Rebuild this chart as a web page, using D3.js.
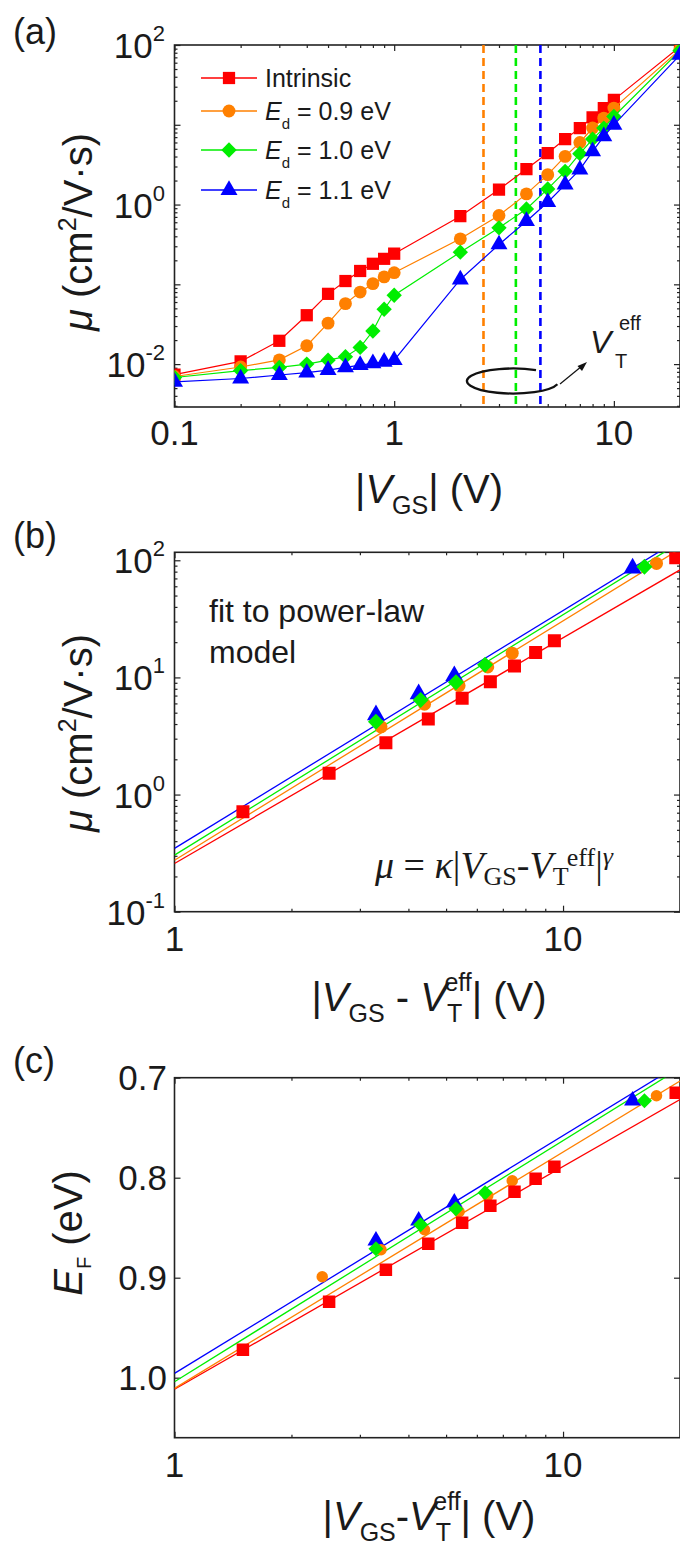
<!DOCTYPE html>
<html lang="en">
<head>
<meta charset="UTF-8" />
<title>Mobility vs gate voltage</title>
<script src="https://d3js.org/d3.v7.min.js"></script>
<style>
  body { margin: 0; background: #fff; }
  text { font-family: "Liberation Sans", Arial, sans-serif; fill: #1a1a1a; }
</style>
</head>
<body>
<script>
// ---- panel (a): mobility vs |VGS| ----
var vgs = [0.1, 0.2, 0.3, 0.4, 0.5, 0.6, 0.7, 0.8, 0.9, 1, 2, 3, 4, 5, 6, 7, 8, 9, 10, 20];
var muIntrinsic = [0.0074, 0.0108, 0.0196, 0.041, 0.076, 0.110, 0.147, 0.181, 0.209, 0.242, 0.715, 1.54, 2.79, 4.42, 6.62, 9.08, 12.4, 16.2, 20.5, 95];
var muEd09 = [0.0070, 0.0092, 0.0113, 0.017, 0.0326, 0.0573, 0.080, 0.102, 0.124, 0.140, 0.372, 0.729, 1.36, 2.37, 4.02, 6.0, 9.1, 12.1, 16.2, 88];
var muEd10 = [0.0068, 0.0083, 0.0091, 0.0100, 0.0112, 0.0124, 0.0162, 0.026, 0.0487, 0.073, 0.253, 0.511, 0.88, 1.57, 2.61, 4.34, 6.62, 9.08, 12.7, 85];
var muEd11 = [0.0060, 0.0066, 0.0073, 0.0078, 0.0084, 0.0091, 0.0097, 0.0102, 0.0107, 0.0112, 0.115, 0.316, 0.619, 1.07, 1.78, 2.74, 4.64, 7.15, 10.0, 75];
var vtEff = [2.55, 3.58, 4.63]; // dashed lines for Ed = 0.9, 1.0, 1.1 eV

// ---- panel (b): mobility vs |VGS - VT| ----
var bIntrinsicX = [1.5, 2.5, 3.5, 4.5, 5.5, 6.5, 7.5, 8.5, 9.5, 19.5];
var bIntrinsicY = [0.713, 1.52, 2.77, 4.42, 6.63, 9.19, 12.5, 16.3, 20.6, 105];
var bEd09X = [3.4, 4.4, 5.4, 6.4, 7.4, 17.4];
var bEd09Y = [3.79, 5.9, 8.5, 12.3, 16.1, 94];
var bEd10X = [3.3, 4.3, 5.3, 6.3, 16.2];
var bEd10Y = [4.19, 6.41, 9.08, 12.8, 88];
var bEd11X = [3.3, 4.25, 5.25, 15.1];
var bEd11Y = [4.78, 7.22, 10.3, 85.6];
var fitX = [1, 20];
var bFitIntrinsic = [0.258, 82.8];
var bFitEd09 = [0.275, 125];
var bFitEd10 = [0.304, 142];
var bFitEd11 = [0.347, 152];

// ---- panel (c): Fermi level vs |VGS - VT| ----
var cIntrinsicY = [0.972, 0.924, 0.892, 0.866, 0.845, 0.828, 0.814, 0.801, 0.789, 0.715];
var cEd09X = [2.4, 3.4, 4.4, 5.4, 6.4, 7.4, 17.4];
var cEd09Y = [0.899, 0.872, 0.852, 0.834, 0.818, 0.803, 0.718];
var cEd10Y = [0.871, 0.847, 0.831, 0.815, 0.723];
var cEd11Y = [0.863, 0.843, 0.825, 0.723];
var cFitIntrinsic = [1.0115, 0.7218];
var cFitEd09 = [1.0107, 0.7033];
var cFitEd10 = [1.004, 0.6904];
var cFitEd11 = [0.9957, 0.6864];

var red = "#ff0000", orange = "#ff8000", green = "#00ee00", blue = "#0000ff";

var svg = d3.select("body").append("svg")
  .attr("width", 680).attr("height", 1550);

var diamond = {
  draw: function (ctx, size) {
    var r = Math.sqrt(size) / 2;
    ctx.moveTo(0, -r); ctx.lineTo(r, 0); ctx.lineTo(0, r); ctx.lineTo(-r, 0); ctx.closePath();
  }
};
var shapes = { square: d3.symbolSquare, circle: d3.symbolCircle, diamond: diamond, triangle: d3.symbolTriangle };

function logTicks(lo, hi) {
  var major = [], minor = [];
  for (var e = Math.floor(Math.log10(lo)); e <= Math.ceil(Math.log10(hi)); e++) {
    for (var m = 1; m < 10; m++) {
      var v = m * Math.pow(10, e);
      if (v < lo * 0.999 || v > hi * 1.001) continue;
      (m === 1 ? major : minor).push(v);
    }
  }
  return { major: major, minor: minor };
}

function makePanel(id, b, x, y, xt, yt) {
  svg.append("clipPath").attr("id", id).append("rect")
    .attr("x", b.left).attr("y", b.top)
    .attr("width", b.right - b.left).attr("height", b.bottom - b.top);
  var g = svg.append("g");
  var sides = [
    [d3.axisBottom(x), "translate(0," + b.bottom + ")", xt],
    [d3.axisTop(x), "translate(0," + b.top + ")", xt],
    [d3.axisLeft(y), "translate(" + b.left + ",0)", yt],
    [d3.axisRight(y), "translate(" + b.right + ",0)", yt]
  ];
  sides.forEach(function (s) {
    [[s[2].major, 6], [s[2].minor, 3]].forEach(function (t) {
      if (!t[0].length) return;
      var a = g.append("g").attr("transform", s[1])
        .call(s[0].tickValues(t[0]).tickSize(-t[1]).tickFormat(""));
      a.select(".domain").remove();
      a.selectAll("line").attr("stroke", "#222").attr("stroke-width", 1.2);
    });
  });
  g.append("rect")
    .attr("x", b.left).attr("y", b.top)
    .attr("width", b.right - b.left).attr("height", b.bottom - b.top)
    .attr("fill", "none").attr("stroke", "#222").attr("stroke-width", 1.6);
  return svg.append("g").attr("clip-path", "url(#" + id + ")");
}

function series(g, x, y, xs, ys, color, shape, size, withLine) {
  var pts = xs.map(function (v, i) { return [v, ys[i]]; });
  if (withLine) {
    g.append("path").datum(pts)
      .attr("fill", "none").attr("stroke", color).attr("stroke-width", 1.2)
      .attr("d", d3.line().x(function (d) { return x(d[0]); }).y(function (d) { return y(d[1]); }));
  }
  g.selectAll(null).data(pts).enter().append("path")
    .attr("transform", function (d) { return "translate(" + x(d[0]) + "," + y(d[1]) + ")"; })
    .attr("d", d3.symbol(shapes[shape], size))
    .attr("fill", color);
}

function fitLine(g, x, y, vals, color) {
  g.append("path").datum(fitX.map(function (v, i) { return [v, vals[i]]; }))
    .attr("fill", "none").attr("stroke", color).attr("stroke-width", 1.3)
    .attr("d", d3.line().x(function (d) { return x(d[0]); }).y(function (d) { return y(d[1]); }));
}

function powLabels(y, vals, xEnd) {
  vals.forEach(function (v) {
    var t = svg.append("text").attr("x", xEnd).attr("y", y(v) + 13)
      .attr("text-anchor", "end").attr("font-size", 35);
    t.append("tspan").text("10");
    t.append("tspan").attr("font-size", 22).attr("dy", -17).text(String(Math.round(Math.log10(v))));
  });
}

function xLabels(x, vals, base, fmt) {
  vals.forEach(function (v) {
    svg.append("text").attr("x", x(v)).attr("y", base)
      .attr("text-anchor", "middle").attr("font-size", 35).text(fmt(v));
  });
}

function panelTag(label, yBase) {
  svg.append("text").attr("x", 13).attr("y", yBase).attr("font-size", 36).text(label);
}

function xTitle(cx, base, parts) {
  var t = svg.append("text").attr("x", cx).attr("y", base)
    .attr("text-anchor", "middle").attr("font-size", 40);
  parts.forEach(function (p) {
    var s = t.append("tspan").text(p.t);
    if (p.i) s.attr("font-style", "italic");
    if (p.fs) s.attr("font-size", p.fs);
    if (p.dy) s.attr("dy", p.dy);
    if (p.dx) s.attr("dx", p.dx);
  });
  return t;
}

function muTitle(cy) {
  var t = svg.append("text")
    .attr("transform", "translate(92," + cy + ") rotate(-90)")
    .attr("text-anchor", "middle").attr("font-size", 40);
  t.append("tspan").attr("font-style", "italic").text("μ");
  t.append("tspan").text(" (cm");
  t.append("tspan").attr("font-size", 25).attr("dy", -16).text("2");
  t.append("tspan").attr("dy", 16).text("/V·s)");
}

var left = 174.5, right = 680;

// ================= (a) =================
var boxA = { left: left, right: right, top: 45, bottom: 407 };
var xA = d3.scaleLog().domain([0.1, 20]).range([left, right]);
var yA = d3.scaleLog().domain([0.0029, 100]).range([boxA.bottom, boxA.top]);
var gA = makePanel("clipA", boxA, xA, yA, logTicks(0.1, 20), logTicks(0.0029, 100));

[[vtEff[0], orange], [vtEff[1], green], [vtEff[2], blue]].forEach(function (d) {
  gA.append("line")
    .attr("x1", xA(d[0])).attr("x2", xA(d[0]))
    .attr("y1", boxA.top).attr("y2", boxA.bottom)
    .attr("stroke", d[1]).attr("stroke-width", 2.6).attr("stroke-dasharray", "8,5");
});

series(gA, xA, yA, vgs, muIntrinsic, red, "square", 150, true);
series(gA, xA, yA, vgs, muEd09, orange, "circle", 130, true);
series(gA, xA, yA, vgs, muEd10, green, "diamond", 235, true);
series(gA, xA, yA, vgs, muEd11, blue, "triangle", 125, true);

powLabels(yA, [100, 1, 0.01], 165);
xLabels(xA, [0.1, 1, 10], boxA.bottom + 38, function (v) { return String(v); });
panelTag("(a)", 44);
muTitle(232);
xTitle(429, 503, [
  { t: "|" }, { t: "V", i: true }, { t: "GS", fs: 25, dy: 11 }, { t: "| (V)", fs: 40, dy: -11 }
]);

// legend
var legend = [
  { name: "Intrinsic", color: red, shape: "square", size: 150, y: 78 },
  { name: "0.9", color: orange, shape: "circle", size: 130, y: 111 },
  { name: "1.0", color: green, shape: "diamond", size: 235, y: 150 },
  { name: "1.1", color: blue, shape: "triangle", size: 125, y: 190 }
];
legend.forEach(function (d, i) {
  svg.append("line").attr("x1", 201).attr("x2", 257).attr("y1", d.y).attr("y2", d.y)
    .attr("stroke", d.color).attr("stroke-width", 1.4);
  svg.append("path").attr("transform", "translate(229," + d.y + ")")
    .attr("d", d3.symbol(shapes[d.shape], d.size)).attr("fill", d.color);
  var t = svg.append("text").attr("x", 265).attr("y", d.y + 9).attr("font-size", 25);
  if (i === 0) { t.text(d.name); return; }
  t.append("tspan").attr("font-style", "italic").text("E");
  t.append("tspan").attr("font-size", 15).attr("dy", 9).text("d");
  t.append("tspan").attr("dy", -9).text(" = " + d.name + " eV");
});

// VT^eff annotation
svg.append("path")
  .attr("d", "M536,370.2 A46,12.5 0 1 0 557.4,384.2")
  .attr("fill", "none").attr("stroke", "#111").attr("stroke-width", 2.3);
svg.append("line").attr("x1", 560).attr("y1", 384).attr("x2", 582).attr("y2", 366)
  .attr("stroke", "#111").attr("stroke-width", 1.2);
svg.append("path").attr("d", "M587,362 L577.5,366 L582,371 Z").attr("fill", "#111");
var vt = svg.append("text").attr("font-size", 32);
vt.append("tspan").attr("x", 590).attr("y", 353).attr("font-style", "italic").text("V");
vt.append("tspan").attr("x", 615).attr("y", 368).attr("font-size", 20).text("T");
vt.append("tspan").attr("x", 619).attr("y", 330).attr("font-size", 20).text("eff");

// ================= (b) =================
var boxB = { left: left, right: right, top: 552.3, bottom: 911.7 };
var xB = d3.scaleLog().domain([1, 20]).range([left, right]);
var yB = d3.scaleLog().domain([0.1, 117]).range([boxB.bottom, boxB.top]);
var gB = makePanel("clipB", boxB, xB, yB, logTicks(1, 20), logTicks(0.1, 117));

fitLine(gB, xB, yB, bFitIntrinsic, red);
fitLine(gB, xB, yB, bFitEd09, orange);
fitLine(gB, xB, yB, bFitEd10, green);
fitLine(gB, xB, yB, bFitEd11, blue);
series(gB, xB, yB, bEd11X, bEd11Y, blue, "triangle", 140, false);
series(gB, xB, yB, bEd09X, bEd09Y, orange, "circle", 133, false);
series(gB, xB, yB, bEd10X, bEd10Y, green, "diamond", 256, false);
series(gB, xB, yB, bIntrinsicX, bIntrinsicY, red, "square", 169, false);

powLabels(yB, [100, 10, 1, 0.1], 165);
xLabels(xB, [1, 10], boxB.bottom + 39, function (v) { return String(v); });
panelTag("(b)", 548);
muTitle(733);
xTitle(429, 1011, [
  { t: "|" }, { t: "V", i: true }, { t: "GS", fs: 25, dy: 11 }, { t: " - ", fs: 40, dy: -11 },
  { t: "V", i: true }, { t: "T", fs: 25, dy: 11 }, { t: "eff", fs: 25, dx: -15, dy: -31 },
  { t: "| (V)", fs: 40, dy: 20 }
]);

svg.append("text").attr("x", 209).attr("y", 622).attr("font-size", 32).text("fit to power-law");
svg.append("text").attr("x", 209).attr("y", 663).attr("font-size", 32).text("model");

var f = svg.append("text").attr("x", 375).attr("y", 878)
  .attr("font-size", 38).style("font-family", "'Liberation Serif', 'Times New Roman', serif");
f.append("tspan").attr("font-style", "italic").text("μ");
f.append("tspan").text(" = ");
f.append("tspan").attr("font-style", "italic").text("κ");
f.append("tspan").text("|");
f.append("tspan").attr("font-style", "italic").text("V");
f.append("tspan").attr("font-size", 26).attr("dy", 7).text("GS");
f.append("tspan").attr("dy", -7).text("-");
f.append("tspan").attr("font-style", "italic").text("V");
f.append("tspan").attr("font-size", 26).attr("dy", 7).text("T");
f.append("tspan").attr("font-size", 26).attr("dy", -19).text("eff");
f.append("tspan").attr("dy", 12).text("|");
f.append("tspan").attr("font-size", 26).attr("font-style", "italic").attr("dy", -13).text("γ");

// ================= (c) =================
var boxC = { left: left, right: right, top: 1077.7, bottom: 1437.7 };
var xC = d3.scaleLog().domain([1, 20]).range([left, right]);
var yC = d3.scaleLinear().domain([0.7, 1.06]).range([boxC.top, boxC.bottom]);
var gC = makePanel("clipC", boxC, xC, yC, logTicks(1, 20), { major: [0.7, 0.8, 0.9, 1.0], minor: [] });

fitLine(gC, xC, yC, cFitIntrinsic, red);
fitLine(gC, xC, yC, cFitEd09, orange);
fitLine(gC, xC, yC, cFitEd10, green);
fitLine(gC, xC, yC, cFitEd11, blue);
series(gC, xC, yC, bEd11X, cEd11Y, blue, "triangle", 125, false);
series(gC, xC, yC, cEd09X, cEd09Y, orange, "circle", 104, false);
series(gC, xC, yC, bEd10X, cEd10Y, green, "diamond", 225, false);
series(gC, xC, yC, bIntrinsicX, cIntrinsicY, red, "square", 156, false);

[0.7, 0.8, 0.9, 1.0].forEach(function (v) {
  svg.append("text").attr("x", 167).attr("y", yC(v) + 12.5)
    .attr("text-anchor", "end").attr("font-size", 35).text(v.toFixed(1));
});
xLabels(xC, [1, 10], boxC.bottom + 39, function (v) { return String(v); });
panelTag("(c)", 1073);

var et = svg.append("text")
  .attr("transform", "translate(82,1233) rotate(-90)")
  .attr("text-anchor", "middle").attr("font-size", 40);
et.append("tspan").attr("font-style", "italic").text("E");
et.append("tspan").attr("font-size", 20).attr("dy", 9).text("F");
et.append("tspan").attr("dy", -9).text(" (eV)");

xTitle(429, 1530, [
  { t: "|" }, { t: "V", i: true }, { t: "GS", fs: 25, dy: 11 }, { t: "-", fs: 40, dy: -11 },
  { t: "V", i: true }, { t: "T", fs: 25, dy: 11 }, { t: "eff", fs: 25, dx: -15, dy: -31 },
  { t: "| (V)", fs: 40, dy: 20 }
]);
</script>
</body>
</html>
